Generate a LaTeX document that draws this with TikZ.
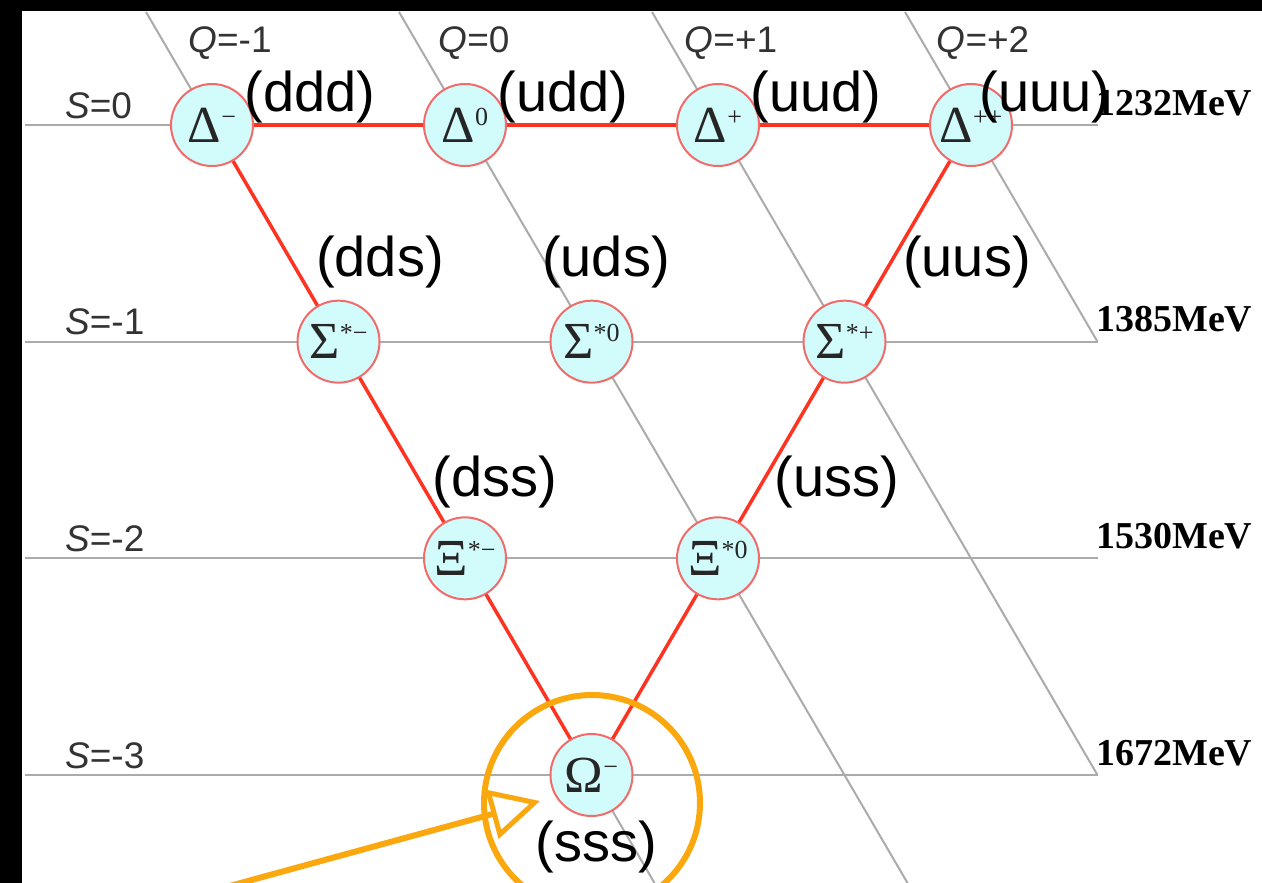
\documentclass[tikz,border=0pt]{standalone}
\usepackage{fontspec}
\setmainfont{Liberation Serif}
\newfontfamily\arialfont{Liberation Sans}
\usetikzlibrary{arrows.meta}
\definecolor{gridgray}{HTML}{ABABAB}
\definecolor{edgered}{HTML}{FF3322}
\definecolor{ballfill}{HTML}{D2FBFB}
\definecolor{ballline}{HTML}{F26B6B}
\definecolor{markorange}{HTML}{FBA80F}
\newcommand{\hsup}[1]{\raisebox{17pt}{\fontsize{26}{26}\selectfont #1}}
\tikzset{
  hadron/.style={circle, draw=ballline, line width=2pt, fill=ballfill,
    minimum size=82pt, inner sep=0pt, text=black!85, font=\fontsize{52}{52}\selectfont},
  quark/.style={inner sep=0pt, font=\arialfont\fontsize{56}{60}\selectfont},
  axislabel/.style={inner sep=0pt, text=black!80, font=\arialfont\fontsize{37}{40}\selectfont},
  mass/.style={inner sep=0pt, anchor=base west, font=\bfseries\fontsize{38}{38}\selectfont},
  grid line/.style={gridgray, line width=2pt},
  edge/.style={edgered, line width=3.5pt},
}
\begin{document}
\begin{tikzpicture}[x=1pt,y=-1pt]
  \useasboundingbox (0,0) rectangle (1262,883);
  \clip (0,0) rectangle (1262,883);
  \fill[white] (0,0) rectangle (1262,883);
  % S-Linien
  \foreach \r in {0,1,2,3}
    \draw[grid line] (25,125+\r*216.67) -- (1097.5,125+\r*216.67);
  % Q-Linien
  \foreach \q/\yb in {0/883,1/883,2/775,3/341.67}
    \draw[grid line] (212+\q*253-113*0.5838,12) -- ({212+\q*253+(\yb-125)*0.5838},\yb);
  % Teilchen
  \node[hadron] (dm)  at (212,125) {Δ\hsup{−}};
  \node[hadron] (dz)  at (465,125) {Δ\hsup{0}};
  \node[hadron] (dp)  at (718,125) {Δ\hsup{+}};
  \node[hadron] (dpp) at (971,125) {Δ\hsup{++}};
  \node[hadron] (sm)  at (338.5,341.67) {Σ\hsup{*−}};
  \node[hadron] (sz)  at (591.5,341.67) {Σ\hsup{*0}};
  \node[hadron] (sp)  at (844.5,341.67) {Σ\hsup{*+}};
  \node[hadron] (xm)  at (465,558.33) {Ξ\hsup{*−}};
  \node[hadron] (xz)  at (718,558.33) {Ξ\hsup{*0}};
  \node[hadron] (om)  at (591.5,775) {Ω\hsup{−}};
  % Dreieck
  \draw[edge] (dm) -- (dz) -- (dp) -- (dpp);
  \draw[edge] (dm) -- (sm) -- (xm) -- (om);
  \draw[edge] (dpp) -- (sp) -- (xz) -- (om);
  % Ladung
  \foreach \x/\q [count=\i] in {230/-1,474/0,731/+1,983/+2}
    \node[axislabel] (q\i) at (\x,43) {\textit{Q}=\q};
  % Strangeness
  \foreach \s [count=\i from 0] in {0,-1,-2,-3}
    \node[axislabel, anchor=base west] (s\i) at (65,118+\i*216.67) {\textit{S}=\s};
  % Massen
  \foreach \m [count=\i from 0] in {1232,1385,1530,1672}
    \node[mass] (m\i) at (1096,115+\i*216.67) {\m MeV};
  % Quarkinhalt
  \node[quark] (qddd) at (310,97) {(ddd)};
  \node[quark] (qudd) at (563,97) {(udd)};
  \node[quark] (quud) at (816,97) {(uud)};
  \node[quark] (quuu) at (1045,97) {(uuu)};
  \node[quark] (qdds) at (380,262) {(dds)};
  \node[quark] (quds) at (606,262) {(uds)};
  \node[quark] (quus) at (967,262) {(uus)};
  \node[quark] (qdss) at (495,482) {(dss)};
  \node[quark] (quss) at (837,482) {(uss)};
  \node[quark] (qsss) at (596,847) {(sss)};
  % Markierung
  \draw[markorange, line width=6pt] (592,803) circle[radius=108];
  \coordinate (tail) at (215,890);
  \coordinate (tip) at (540,801);
  \draw[markorange, line width=6pt, -{Triangle[open,length=50pt,width=50pt,line width=5pt]}] (tail) -- (tip);
  % Rand
  \fill[black] (0,0) rectangle (22,883);
  \fill[black] (0,0) rectangle (1262,11);
\end{tikzpicture}
\end{document}
